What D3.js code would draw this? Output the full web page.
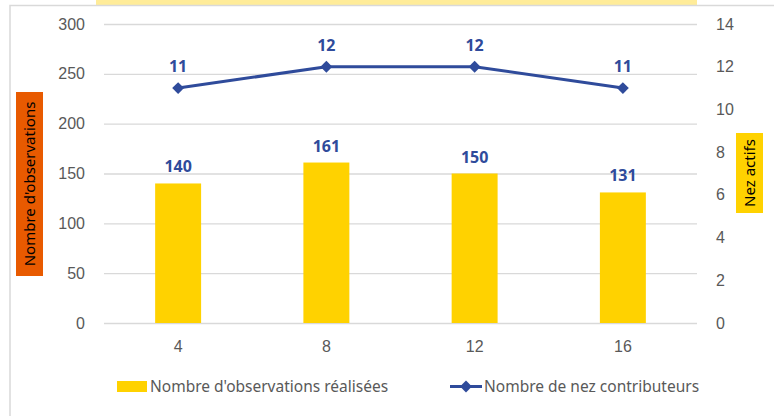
<!DOCTYPE html>
<html>
<head>
<meta charset="utf-8">
<script src="https://cdn.jsdelivr.net/npm/d3@7"></script>
<style>
    body { margin: 0; background: #fff; }
    svg { font-family: "Noto Sans", "Open Sans", sans-serif; }
    .tick text { fill: #595959; font-size: 16px; }
    .legend-text { fill: #595959; font-size: 15.5px; }
</style>
</head>
<body>
<svg id="chart" width="774" height="416"></svg>
<script>
// data
var categories = ["4", "8", "12", "16"];
var observations = [140, 161, 150, 131];
var contributors = [11, 12, 12, 11];
var leftTicks = [0, 50, 100, 150, 200, 250, 300];
var rightTicks = [0, 2, 4, 6, 8, 10, 12, 14];

var svg = d3.select("#chart");

var margin = {left: 104, right: 77, top: 24, bottom: 93};
var width = 774 - margin.left - margin.right;
var height = 416 - margin.top - margin.bottom;

var blue = "#2f4b9b";
var gold = "#ffd200";

// top band + frame
svg.append("rect")
    .attr("x", 96).attr("y", 0)
    .attr("width", 601).attr("height", 5)
    .attr("fill", "#ffec99");

svg.append("path")
    .attr("d", "M10,416 V5.5 H774")
    .attr("fill", "none")
    .attr("stroke", "#d9d9d9")
    .attr("stroke-width", 1.5);

var g = svg.append("g")
    .attr("transform", "translate(" + margin.left + "," + margin.top + ")");

var x = d3.scaleBand()
    .domain(categories)
    .range([0, width])
    .paddingInner(0.69)
    .paddingOuter(0.345);

var xPoint = function(d) {
    return x(d) + x.bandwidth() / 2;
};

var yLeft = d3.scaleLinear().domain([0, 300]).range([height, 0]);
var yRight = d3.scaleLinear().domain([0, 14]).range([height, 0]);

// grid
g.append("g")
    .selectAll("line")
    .data(leftTicks)
    .enter().append("line")
    .attr("x1", 0)
    .attr("x2", width)
    .attr("y1", function(d) { return yLeft(d) + 0.5; })
    .attr("y2", function(d) { return yLeft(d) + 0.5; })
    .attr("stroke", "#d9d9d9")
    .attr("stroke-width", 1.3);

// axes
var yAxisLeft = g.append("g")
    .attr("class", "axis axis--y")
    .call(d3.axisLeft(yLeft).tickValues(leftTicks).tickSize(0).tickPadding(19));
yAxisLeft.select(".domain").remove();

var yAxisRight = g.append("g")
    .attr("class", "axis axis--y2")
    .attr("transform", "translate(" + width + ",0)")
    .call(d3.axisRight(yRight).tickValues(rightTicks).tickSize(0).tickPadding(19));
yAxisRight.select(".domain").remove();

var xAxis = g.append("g")
    .attr("class", "axis axis--x")
    .attr("transform", "translate(0," + height + ")")
    .call(d3.axisBottom(x).tickSize(0).tickPadding(18));
xAxis.select(".domain").remove();

svg.selectAll(".tick text").attr("font-family", null).attr("font-size", null);

// bars
var obsData = categories.map(function(c, i) { return {cat: c, value: observations[i]}; });
var conData = categories.map(function(c, i) { return {cat: c, value: contributors[i]}; });

g.append("g")
    .selectAll(".bar")
    .data(obsData)
    .enter().append("rect")
    .attr("class", "bar")
    .attr("x", function(d) { return x(d.cat); })
    .attr("y", function(d) { return yLeft(d.value); })
    .attr("width", x.bandwidth())
    .attr("height", function(d) { return height - yLeft(d.value); })
    .attr("fill", gold);

g.append("g")
    .selectAll("text")
    .data(obsData)
    .enter().append("text")
    .attr("x", function(d) { return xPoint(d.cat); })
    .attr("y", function(d) { return yLeft(d.value) - 11; })
    .attr("text-anchor", "middle")
    .attr("font-size", 16)
    .attr("font-weight", "bold")
    .attr("fill", blue)
    .text(function(d) { return d.value; });

// line
var line = d3.line()
    .x(function(d) { return xPoint(d.cat); })
    .y(function(d) { return yRight(d.value); });

g.append("path")
    .datum(conData)
    .attr("d", line)
    .attr("fill", "none")
    .attr("stroke", blue)
    .attr("stroke-width", 3);

var diamond = d3.symbol().type(d3.symbolDiamond2).size(90);

g.append("g")
    .selectAll("path")
    .data(conData)
    .enter().append("path")
    .attr("d", diamond)
    .attr("transform", function(d) {
        return "translate(" + xPoint(d.cat) + "," + yRight(d.value) + ")";
    })
    .attr("fill", blue);

g.append("g")
    .selectAll("text")
    .data(conData)
    .enter().append("text")
    .attr("x", function(d) { return xPoint(d.cat); })
    .attr("y", function(d) { return yRight(d.value) - 16; })
    .attr("text-anchor", "middle")
    .attr("font-size", 16)
    .attr("font-weight", "bold")
    .attr("fill", blue)
    .text(function(d) { return d.value; });

// axis titles
svg.append("rect")
    .attr("x", 16).attr("y", 92)
    .attr("width", 27).attr("height", 184)
    .attr("fill", "#e85a00");
svg.append("text")
    .attr("transform", "translate(35,184) rotate(-90)")
    .attr("text-anchor", "middle")
    .attr("font-size", 15)
    .attr("fill", "#000")
    .text("Nombre d'observations");

svg.append("rect")
    .attr("x", 736).attr("y", 133)
    .attr("width", 27).attr("height", 80)
    .attr("fill", gold);
svg.append("text")
    .attr("transform", "translate(755,173) rotate(-90)")
    .attr("text-anchor", "middle")
    .attr("font-size", 15)
    .attr("fill", "#000")
    .text("Nez actifs");

// legend
var legend = svg.append("g").attr("class", "legend");

legend.append("rect")
    .attr("x", 117).attr("y", 381)
    .attr("width", 30).attr("height", 11)
    .attr("fill", gold);
legend.append("text")
    .attr("class", "legend-text")
    .attr("x", 150).attr("y", 392)
    .text("Nombre d'observations réalisées");

legend.append("line")
    .attr("x1", 450).attr("x2", 482)
    .attr("y1", 386.5).attr("y2", 386.5)
    .attr("stroke", blue)
    .attr("stroke-width", 3);
legend.append("path")
    .attr("d", diamond)
    .attr("transform", "translate(466,386.5)")
    .attr("fill", blue);
legend.append("text")
    .attr("class", "legend-text")
    .attr("x", 484).attr("y", 392)
    .text("Nombre de nez contributeurs");
</script>
</body>
</html>
